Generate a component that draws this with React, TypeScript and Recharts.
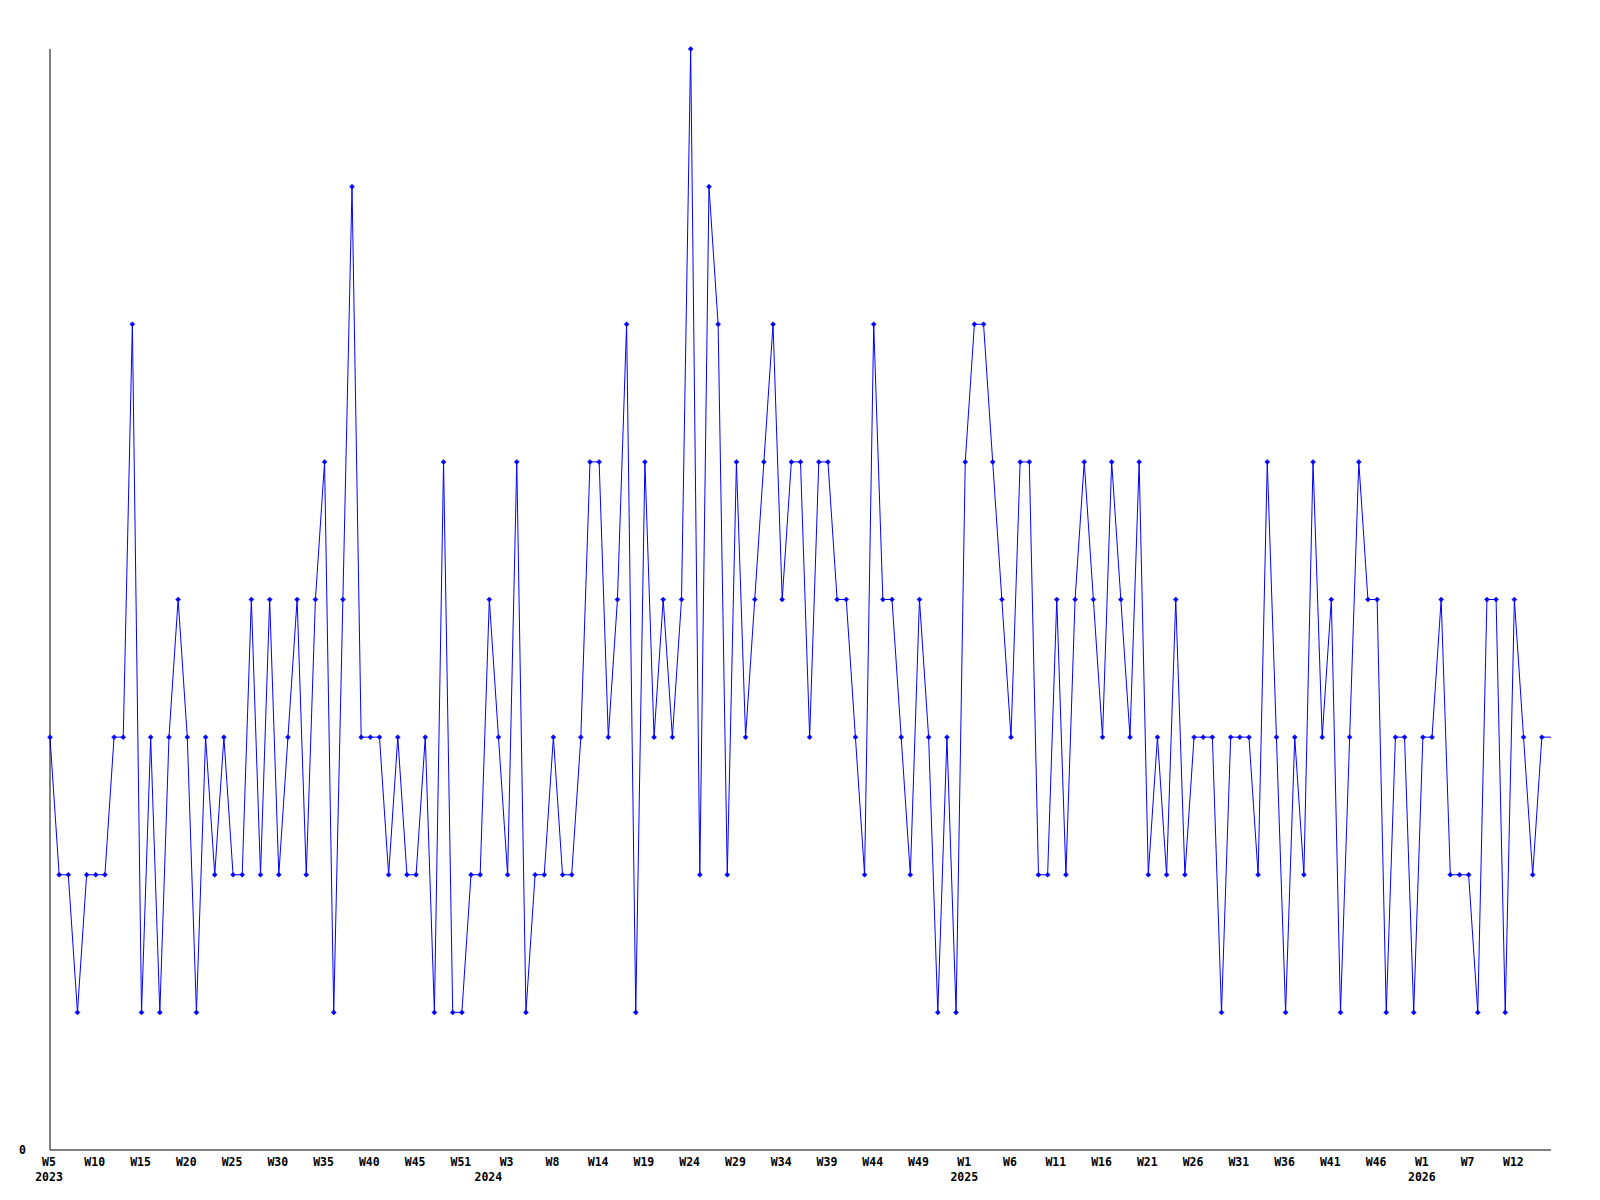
import { LineChart, Line, XAxis, YAxis } from "recharts";

// weekly counts, W5 2023 .. W16 2026
const values = [
  3, 2, 2, 1, 2, 2, 2, 3, 3, 6, 1, 3, 1, 3, 4, 3, 1, 3, 2, 3, 2, 2, 4,
  2, 4, 2, 3, 4, 2, 4, 5, 1, 4, 7, 3, 3, 3, 2, 3, 2, 2, 3, 1, 5, 1, 1,
  2, 2, 4, 3, 2, 5, 1, 2, 2, 3, 2, 2, 3, 5, 5, 3, 4, 6, 1, 5, 3, 4, 3,
  4, 8, 2, 7, 6, 2, 5, 3, 4, 5, 6, 4, 5, 5, 3, 5, 5, 4, 4, 3, 2, 6, 4,
  4, 3, 2, 4, 3, 1, 3, 1, 5, 6, 6, 5, 4, 3, 5, 5, 2, 2, 4, 2, 4, 5, 4,
  3, 5, 4, 3, 5, 2, 3, 2, 4, 2, 3, 3, 3, 1, 3, 3, 3, 2, 5, 3, 1, 3, 2,
  5, 3, 4, 1, 3, 5, 4, 4, 1, 3, 3, 1, 3, 3, 4, 2, 2, 2, 1, 4, 4, 1, 4,
  3, 2, 3, 3,
];

const weekTickIndex = [
  0, 5, 10, 15, 20, 25, 30, 35, 40, 45, 50, 55, 60, 65, 70, 75, 80, 85, 90,
  95, 100, 105, 110, 115, 120, 125, 130, 135, 140, 145, 150, 155, 160,
];
const weekTickLabel = [
  "W5", "W10", "W15", "W20", "W25", "W30", "W35", "W40", "W45", "W51", "W3",
  "W8", "W14", "W19", "W24", "W29", "W34", "W39", "W44", "W49", "W1", "W6",
  "W11", "W16", "W21", "W26", "W31", "W36", "W41", "W46", "W1", "W7", "W12",
];
const yearTickIndex = [0, 48, 100, 150];
const yearTickLabel = ["2023", "2024", "2025", "2026"];

const data = values.map((v, i) => ({ i, v }));
const allTicks = Array.from(new Set([...weekTickIndex, ...yearTickIndex])).sort((a, b) => a - b);

const font = { fontFamily: "'DejaVu Sans Mono', monospace", fontWeight: 700, fontSize: 11.5 };

function XTick(props: any) {
  const { x, y, payload } = props;
  const wi = weekTickIndex.indexOf(payload.value);
  const yi = yearTickIndex.indexOf(payload.value);
  return (
    <g>
      {wi >= 0 && (
        <text x={x - 1} y={y} dy={15.5} textAnchor="middle" fill="#000" {...font}>
          {weekTickLabel[wi]}
        </text>
      )}
      {yi >= 0 && (
        <text x={x - 1} y={y} dy={30.5} textAnchor="middle" fill="#000" {...font}>
          {yearTickLabel[yi]}
        </text>
      )}
    </g>
  );
}

function YTick(props: any) {
  const { x, y, payload } = props;
  return (
    <text x={x} y={y} dy={4} textAnchor="end" fill="#000" {...font}>
      {payload.value}
    </text>
  );
}

function Marker(props: any) {
  const { cx, cy, index } = props;
  if (index === values.length - 1 || cx == null) return <g key={index} />;
  return (
    <path
      key={index}
      d={`M${cx},${cy - 2.5}L${cx + 2.5},${cy}L${cx},${cy + 2.5}L${cx - 2.5},${cy}Z`}
      fill="#0000ff"
      stroke="#0000ff"
      strokeWidth={0.5}
    />
  );
}

export default function App() {
  return (
    <div style={{ width: 1584, height: 1184, background: "#fff" }}>
      <LineChart width={1584} height={1184} data={data} margin={{ top: 41, right: 41, bottom: 0, left: 0 }}>
        <XAxis
          dataKey="i"
          type="number"
          domain={[0, values.length - 1]}
          ticks={allTicks}
          interval={0}
          tickLine={false}
          tickSize={0}
          tickMargin={0}
          height={42}
          axisLine={{ stroke: "#000", strokeWidth: 1 }}
          tick={<XTick />}
        />
        <YAxis
          domain={[0, 8]}
          ticks={[0]}
          width={42}
          tickLine={false}
          tickSize={0}
          tickMargin={24}
          axisLine={{ stroke: "#000", strokeWidth: 1 }}
          tick={<YTick />}
        />
        <Line
          type="linear"
          dataKey="v"
          stroke="#0000ff"
          strokeWidth={1}
          dot={<Marker />}
          activeDot={false}
          isAnimationActive={false}
        />
      </LineChart>
    </div>
  );
}
